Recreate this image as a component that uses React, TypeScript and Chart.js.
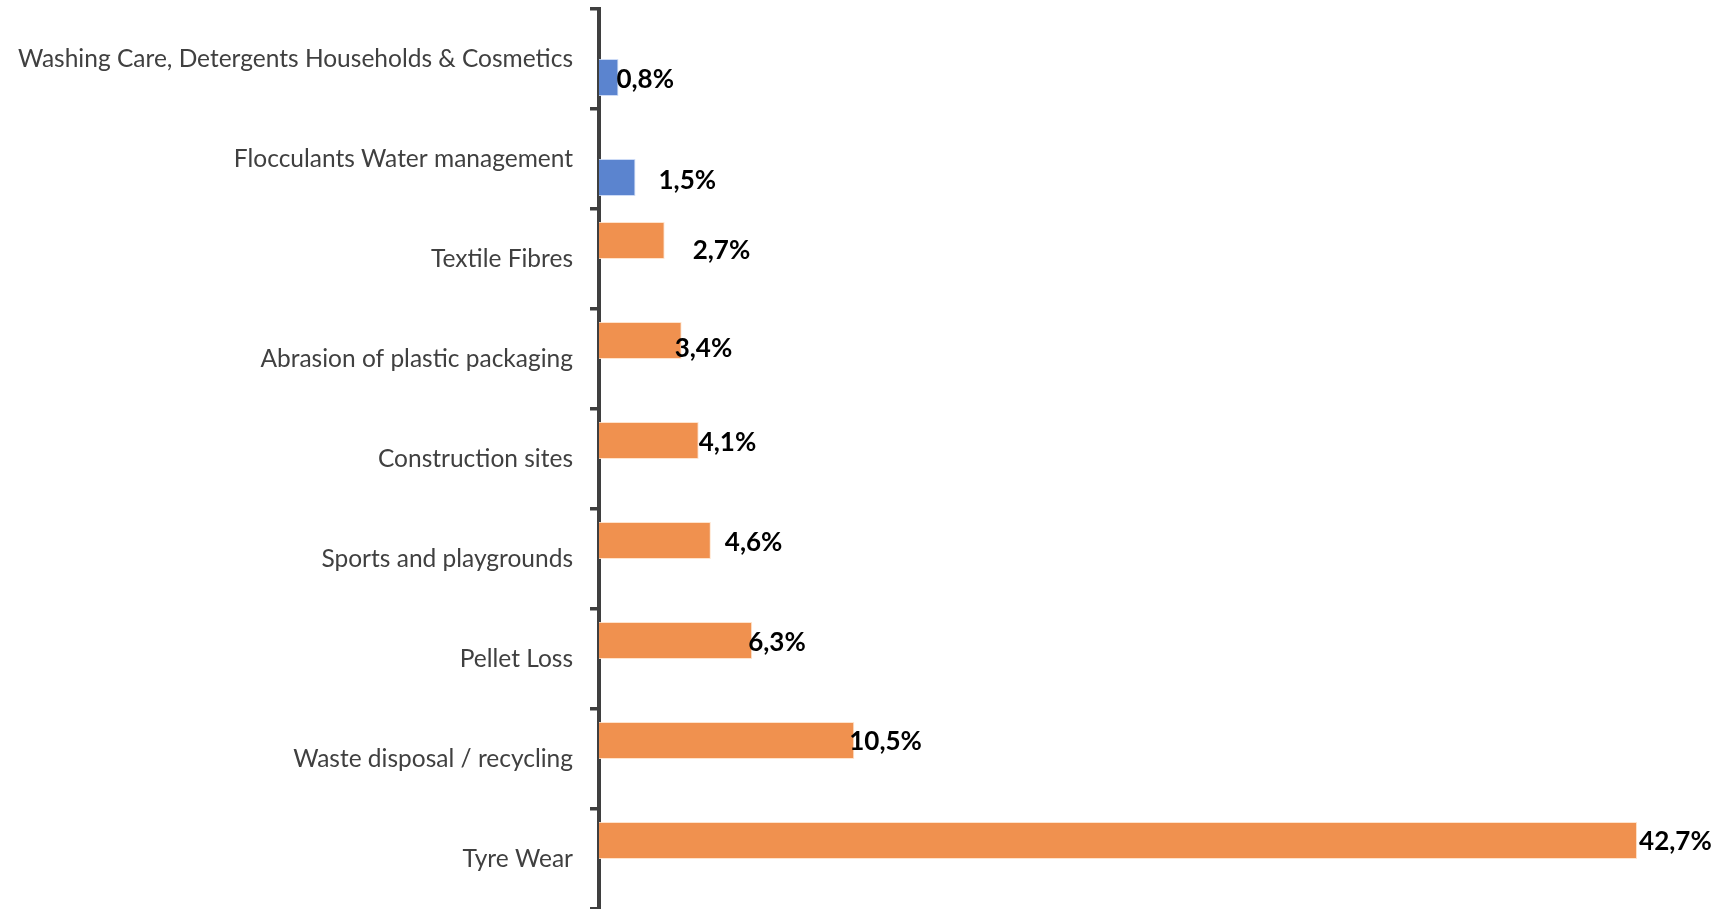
import React, { useEffect, useRef } from "react";
import { Chart, registerables } from "chart.js";

Chart.register(...registerables);

const categories = [
  "Washing Care, Detergents Households & Cosmetics",
  "Flocculants Water management",
  "Textile Fibres",
  "Abrasion of plastic packaging",
  "Construction sites",
  "Sports and playgrounds",
  "Pellet Loss",
  "Waste disposal / recycling",
  "Tyre Wear",
];

const orangeValues = [null, null, 2.7, 3.4, 4.1, 4.6, 6.3, 10.5, 42.7];
const blueValues = [0.8, 1.5, null, null, null, null, null, null, null];

const valueLabels = ["0,8%", "1,5%", "2,7%", "3,4%", "4,1%", "4,6%", "6,3%", "10,5%", "42,7%"];

// manual label nudges (px), like hand-moved labels in the original
const labelNudgeX = [-2, 23, 28, -7, 0, 14, -4, -5, 2];
const labelNudgeY = [2, 3, 10, 8, 2, 2, 2, 1, 1];

const labelPlugin = {
  id: "valueLabels",
  afterDatasetsDraw(chart: any) {
    const ctx = chart.ctx;
    ctx.save();
    ctx.font = "bold 26px Lato, 'Open Sans', sans-serif";
    ctx.fillStyle = "#000000";
    ctx.textAlign = "left";
    ctx.textBaseline = "middle";
    chart.data.datasets.forEach((ds: any, di: number) => {
      const meta = chart.getDatasetMeta(di);
      meta.data.forEach((bar: any, i: number) => {
        const v = ds.data[i];
        if (v === null || v === undefined) return;
        ctx.fillText(valueLabels[i], bar.x + labelNudgeX[i], bar.y + labelNudgeY[i]);
      });
    });
    ctx.restore();
  },
};

export default function App() {
  const ref = useRef<HTMLCanvasElement | null>(null);
  useEffect(() => {
    if (!ref.current) return;
    const chart = new Chart(ref.current, {
      type: "bar",
      data: {
        labels: categories,
        datasets: [
          {
            data: orangeValues as any,
            backgroundColor: "#F0914F",
            borderColor: "rgba(255,225,200,0.9)",
            borderWidth: 1,
            categoryPercentage: 0.74,
            barPercentage: 1,
          },
          {
            data: blueValues as any,
            backgroundColor: "#5B84CF",
            borderColor: "rgba(200,215,245,0.9)",
            borderWidth: 1,
            categoryPercentage: 0.74,
            barPercentage: 1,
          },
        ],
      },
      options: {
        indexAxis: "y",
        animation: false,
        responsive: true,
        maintainAspectRatio: false,
        layout: { padding: { top: 9, right: 39, bottom: 0, left: 0 } },
        plugins: {
          legend: { display: false },
          tooltip: { enabled: false },
        },
        scales: {
          x: {
            display: false,
            min: 0,
            max: 45,
          },
          y: {
            afterFit(scale: any) {
              scale.width = 599;
              scale.paddingTop = 0;
              scale.paddingBottom = 0;
            },
            border: { display: true, color: "#3F3F3F", width: 4 },
            grid: {
              offset: true,
              drawOnChartArea: false,
              drawTicks: true,
              tickLength: 9,
              color: "#3F3F3F",
              lineWidth: 3.5,
            },
            ticks: {
              padding: 17,
              color: "#404040",
              font: { family: "Lato, 'Open Sans', sans-serif", size: 24.5 },
            },
          },
        },
      },
      plugins: [labelPlugin],
    });
    return () => chart.destroy();
  }, []);
  return (
    <div style={{ position: "absolute", left: 0, top: 0, width: 1732, height: 909, background: "#fff" }}>
      <canvas ref={ref} />
    </div>
  );
}
